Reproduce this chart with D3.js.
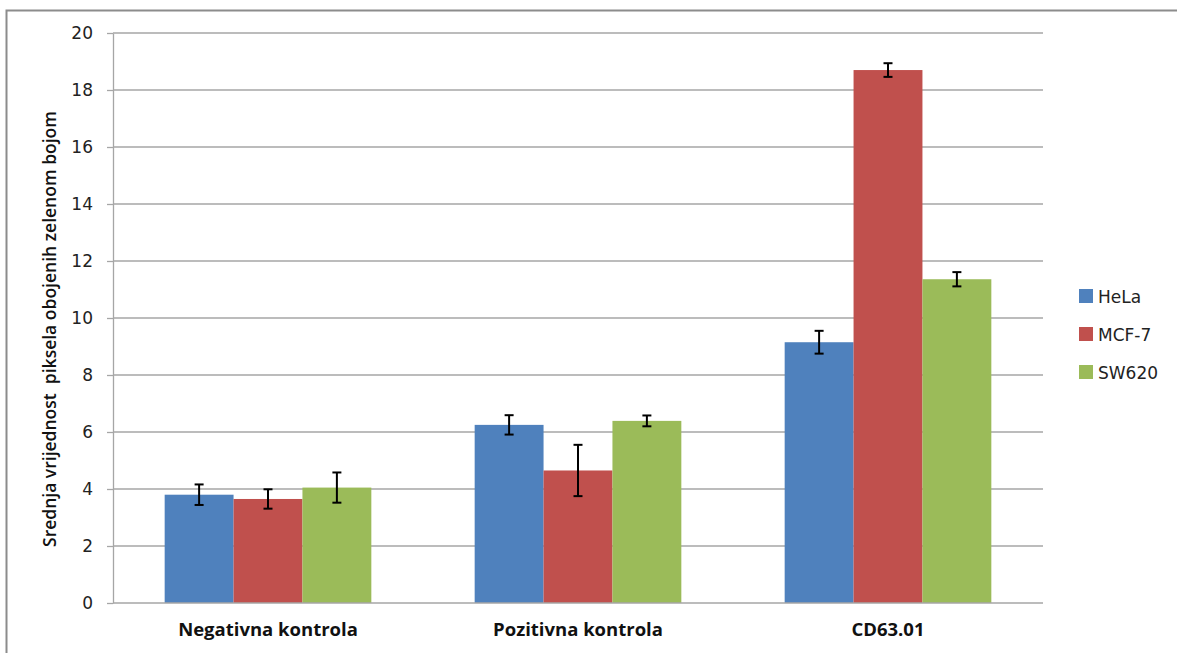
<!DOCTYPE html>
<html>
<head>
<meta charset="utf-8">
<script src="https://cdn.jsdelivr.net/npm/d3@7"></script>
<style>
  body { margin: 0; background: #fff; }
  svg { display: block; }
</style>
</head>
<body>
<div id="chart"></div>
<script>
const categories = ["Negativna kontrola", "Pozitivna kontrola", "CD63.01"];
const seriesNames = ["HeLa", "MCF-7", "SW620"];
const seriesColors = ["#4f81bd", "#c0504d", "#9bbb59"];
const helaValues = [3.8, 6.25, 9.15];
const mcf7Values = [3.65, 4.65, 18.7];
const sw620Values = [4.05, 6.39, 11.36];
const helaErrors = [0.36, 0.34, 0.4];
const mcf7Errors = [0.34, 0.9, 0.24];
const sw620Errors = [0.53, 0.19, 0.25];
const yTicks = [0, 2, 4, 6, 8, 10, 12, 14, 16, 18, 20];
const yTitle = "Srednja vrijednost  piksela obojenih zelenom bojom";

const values = [helaValues, mcf7Values, sw620Values];
const errors = [helaErrors, mcf7Errors, sw620Errors];

const w = 1177, h = 653;
const plotLeft = 113, plotRight = 1043, plotTop = 33, plotBottom = 603;

const svg = d3.select("#chart")
  .append("svg")
  .attr("width", w)
  .attr("height", h);

// outer frame
svg.append("rect")
  .attr("x", 6.5)
  .attr("y", 10.5)
  .attr("width", 1180)
  .attr("height", 660)
  .attr("fill", "none")
  .attr("stroke", "#8c8c8c")
  .attr("stroke-width", 2);

const xScale = d3.scaleBand()
  .domain(categories)
  .range([plotLeft, plotRight])
  .paddingInner(1 / 3)
  .paddingOuter(1 / 6);

const xSub = d3.scaleBand()
  .domain(seriesNames)
  .range([0, xScale.bandwidth()]);

const yScale = d3.scaleLinear()
  .domain([0, 20])
  .range([plotBottom, plotTop]);

// gridlines
svg.append("g")
  .selectAll("line")
  .data(yTicks.slice(1))
  .enter()
  .append("line")
  .attr("x1", plotLeft)
  .attr("x2", plotRight)
  .attr("y1", d => yScale(d))
  .attr("y2", d => yScale(d))
  .attr("stroke", "#a6a6a6")
  .attr("stroke-width", 1.3);

// y axis
const yAxis = d3.axisLeft(yScale).tickValues(yTicks).tickSize(6).tickSizeOuter(0).tickPadding(14);
const gy = svg.append("g")
  .attr("transform", "translate(" + plotLeft + ",0)")
  .call(yAxis);
gy.select(".domain").attr("stroke", "#a6a6a6").attr("stroke-width", 1.3);
gy.selectAll(".tick line").attr("stroke", "#a6a6a6").attr("stroke-width", 1.3);
gy.selectAll(".tick text")
  .attr("fill", "#222")
  .style("font-family", "'DejaVu Sans', Verdana, sans-serif")
  .style("font-size", "17px");

// bars
seriesNames.forEach(function (name, s) {
  svg.append("g")
    .selectAll("rect")
    .data(categories)
    .enter()
    .append("rect")
    .attr("x", (d) => xScale(d) + xSub(name))
    .attr("y", (d, j) => yScale(values[s][j]))
    .attr("width", xSub.bandwidth())
    .attr("height", (d, j) => yScale(0) - yScale(values[s][j]))
    .attr("fill", seriesColors[s]);
});

// x axis line
svg.append("line")
  .attr("x1", plotLeft)
  .attr("x2", plotRight)
  .attr("y1", yScale(0))
  .attr("y2", yScale(0))
  .attr("stroke", "#a6a6a6")
  .attr("stroke-width", 1.3);

// error bars
seriesNames.forEach(function (name, s) {
  const g = svg.append("g").attr("stroke", "#000").attr("stroke-width", 2);
  categories.forEach(function (c, j) {
    const cx = xScale(c) + xSub(name) + xSub.bandwidth() / 2;
    const hi = yScale(values[s][j] + errors[s][j]);
    const lo = yScale(values[s][j] - errors[s][j]);
    g.append("line").attr("x1", cx).attr("x2", cx).attr("y1", hi).attr("y2", lo);
    g.append("line").attr("x1", cx - 4.5).attr("x2", cx + 4.5).attr("y1", hi).attr("y2", hi);
    g.append("line").attr("x1", cx - 4.5).attr("x2", cx + 4.5).attr("y1", lo).attr("y2", lo);
  });
});

// category labels
svg.append("g")
  .selectAll("text")
  .data(categories)
  .enter()
  .append("text")
  .attr("x", d => xScale(d) + xScale.bandwidth() / 2)
  .attr("y", 636)
  .attr("text-anchor", "middle")
  .style("font-family", "'Open Sans', sans-serif")
  .style("font-size", "18.5px")
  .style("font-weight", "bold")
  .attr("fill", "#111")
  .text(d => d);

// y title
svg.append("text")
  .attr("transform", "translate(56,329) rotate(-90)")
  .attr("text-anchor", "middle")
  .style("font-family", "'Open Sans', sans-serif")
  .style("font-size", "17.5px")
  .style("font-weight", "600")
  .attr("fill", "#111")
  .style("white-space", "pre")
  .text(yTitle);

// legend
const legend = svg.append("g")
  .selectAll("g")
  .data(seriesNames)
  .enter()
  .append("g")
  .attr("transform", (d, i) => "translate(1079," + (296 + i * 38) + ")");
legend.append("rect")
  .attr("x", 0)
  .attr("y", -7)
  .attr("width", 14)
  .attr("height", 14)
  .attr("fill", (d, i) => seriesColors[i]);
legend.append("text")
  .attr("x", 19)
  .attr("y", 7)
  .style("font-family", "'DejaVu Sans', Verdana, sans-serif")
  .style("font-size", "17px")
  .attr("fill", "#222")
  .text(d => d);
</script>
</body>
</html>
